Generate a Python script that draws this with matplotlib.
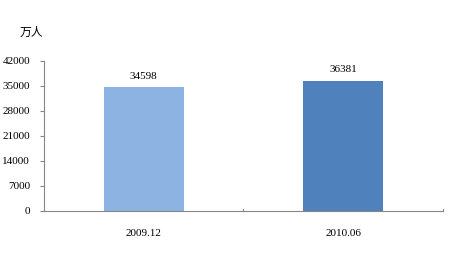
import matplotlib
matplotlib.use("Agg")
import matplotlib.pyplot as plt

plt.rcParams['font.family'] = ['Liberation Serif', 'Noto Sans CJK SC']

categories = ['2009.12', '2010.06']
values = [34598, 36381]
colors = ['#8DB3E2', '#4F81BD']
yticks = [0, 7000, 14000, 21000, 28000, 35000, 42000]

fig = plt.figure(figsize=(4.5, 2.68), dpi=100)
ax = fig.add_axes([0.0978, 0.2127, 0.8862, 0.5597])

x = [0, 1]
bars = ax.bar(x, values, width=0.4, color=colors, zorder=2)
for xi, v in zip(x, values):
    ax.text(xi, v + 1900, str(v), ha='center', va='bottom', fontsize=8, color='#000000')

ax.set_xlim(-0.5, 1.5)
ax.set_ylim(0, 42000)
ax.set_yticks(yticks)
ax.set_yticklabels([str(t) for t in yticks], fontsize=8)
ax.set_xticks(x)
ax.set_xticklabels(categories, fontsize=8)
ax.tick_params(axis='x', length=0, pad=13)
ax.tick_params(axis='y', length=3, width=0.8, color='#868686', pad=7)

# category separator ticks on the x axis
for xs in [0.5, 1.5]:
    ax.plot([xs, xs], [0, 600], color='#868686', lw=0.8, clip_on=False, zorder=3)

for s in ['top', 'right']:
    ax.spines[s].set_visible(False)
ax.spines['left'].set_color('#868686')
ax.spines['bottom'].set_color('#868686')
ax.spines['left'].set_linewidth(0.8)
ax.spines['bottom'].set_linewidth(0.8)

fig.text(20 / 450, 1 - 32 / 268, '万人', fontsize=8.5, ha='left', va='center',
         family=['Noto Sans CJK SC'])

fig.savefig('out.png', dpi=100)
